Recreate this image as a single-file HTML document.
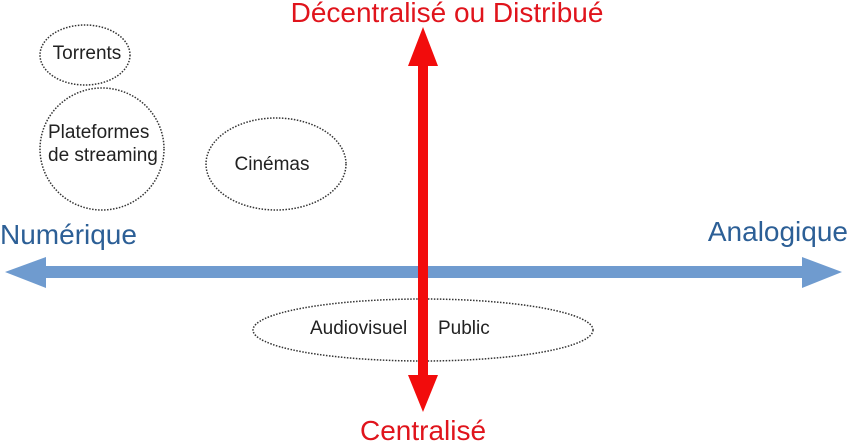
<!DOCTYPE html>
<html><head><style>body{margin:0;background:#fff}</style></head><body>
<svg width="850" height="442" xmlns="http://www.w3.org/2000/svg" font-family="Liberation Sans, sans-serif">
<g fill="none" stroke="#333" stroke-width="1.5" stroke-dasharray="1.5 1.5">
<ellipse cx="85" cy="55" rx="45" ry="30"/>
<ellipse cx="102" cy="149" rx="62" ry="61"/>
<ellipse cx="276" cy="164" rx="70" ry="46"/>
<ellipse cx="423" cy="330" rx="170" ry="31"/>
</g>
<g font-size="19" fill="#222">
<text x="87" y="59" text-anchor="middle">Torrents</text>
<text x="48" y="138">Plateformes</text>
<text x="48" y="161">de streaming</text>
<text x="272" y="170" text-anchor="middle">Cinémas</text>
<text x="310" y="334">Audiovisuel</text>
<text x="438" y="334">Public</text>
</g>
<polygon points="5,272 46,257 46,266 802,266 802,257 842,272 802,288 802,278 46,278 46,288" fill="#6f9bcf"/>
<polygon points="423,27 438,66 428,66 428,375 438,375 423,412 408,375 418,375 418,66 408,66" fill="#f20c0c"/>
<text x="447" y="22" font-size="28" fill="#e0141c" text-anchor="middle">Décentralisé ou Distribué</text>
<text x="423" y="440" font-size="28" fill="#e0141c" text-anchor="middle">Centralisé</text>
<text x="0" y="244" font-size="28" fill="#2c5f96">Numérique</text>
<text x="848" y="241" font-size="28" fill="#2c5f96" text-anchor="end">Analogique</text>
</svg>
</body></html>
